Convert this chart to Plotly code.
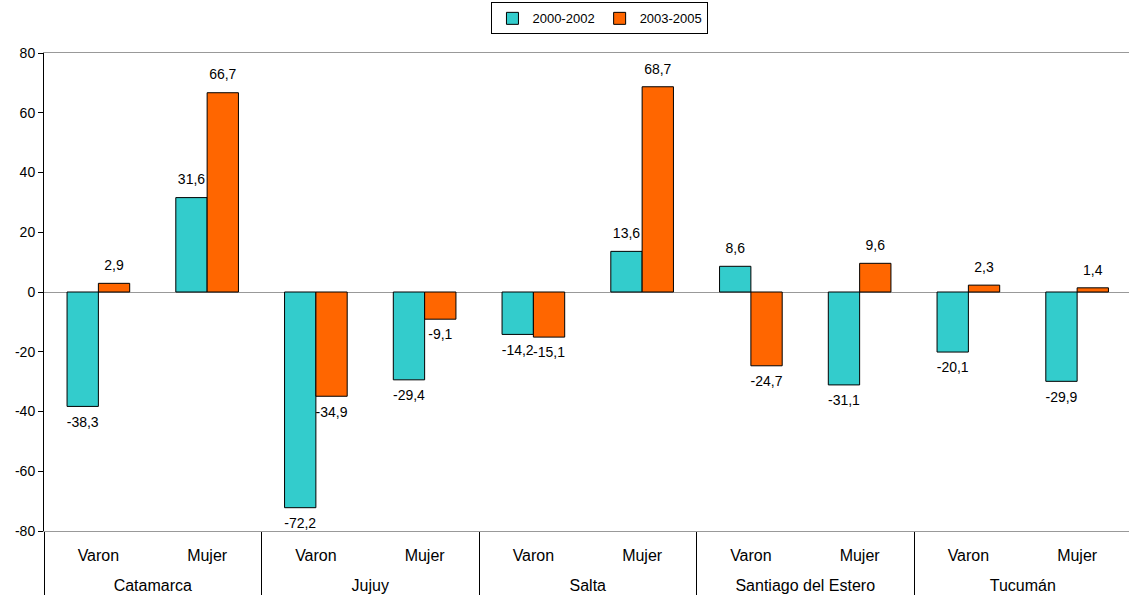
import plotly.graph_objects as go

provincias = ["Catamarca", "Jujuy", "Salta", "Santiago del Estero", "Tucumán"]
sexos = ["Varon", "Mujer"]

# Variación porcentual por provincia y sexo (Varon, Mujer)
serie_2000_2002 = [-38.3, 31.6, -72.2, -29.4, -14.2, 13.6, 8.6, -31.1, -20.1, -29.9]
serie_2003_2005 = [2.9, 66.7, -34.9, -9.1, -15.1, 68.7, -24.7, 9.6, 2.3, 1.4]

y_ticks = [-80, -60, -40, -20, 0, 20, 40, 60, 80]

# Nivel de sexo con una línea vacía debajo para separar los dos niveles del eje
nivel_prov = [p for p in provincias for _ in sexos]
nivel_sexo = [s + "<br> " for _ in provincias for s in sexos]


def etiqueta(v):
    return f"{v:.1f}".replace(".", ",")


series = [
    ("2000-2002", serie_2000_2002, "#33CCCC"),
    ("2003-2005", serie_2003_2005, "#FF6600"),
]

fig = go.Figure()
for nombre, valores, color in series:
    fig.add_trace(go.Bar(
        name=nombre,
        x=[nivel_prov, nivel_sexo],
        y=valores,
        offsetgroup=nombre,
        marker=dict(color=color, line=dict(color="#000000", width=1)),
    ))

# Etiquetas de valor: puntos invisibles agrupados igual que las barras
for nombre, valores, color in series:
    fig.add_trace(go.Scatter(
        x=[nivel_prov, nivel_sexo],
        y=valores,
        offsetgroup=nombre,
        mode="markers+text",
        marker=dict(size=14, opacity=0),
        text=[etiqueta(v) for v in valores],
        textposition=["top center" if v >= 0 else "bottom center" for v in valores],
        textfont=dict(size=14, color="#000000"),
        showlegend=False,
        hoverinfo="skip",
        cliponaxis=False,
    ))

fig.update_layout(
    width=1129,
    height=599,
    margin=dict(l=44, r=0, t=53, b=68),
    paper_bgcolor="white",
    plot_bgcolor="white",
    font=dict(family="Liberation Sans, Arial, sans-serif", size=14, color="#000000"),
    barmode="group",
    bargap=0.424,
    bargroupgap=0,
    scattermode="group",
    scattergap=0.424,
    showlegend=True,
    legend=dict(
        orientation="h",
        x=0.5124, xanchor="center",
        y=0.996, yref="container", yanchor="top",
        bordercolor="#000000", borderwidth=1,
        font=dict(size=13),
        itemwidth=30,
        tracegroupgap=0,
    ),
)

fig.update_xaxes(
    type="multicategory",
    range=[-0.5, 9.477],
    showline=True, linecolor="#999999", linewidth=1, mirror=True,
    showgrid=False,
    ticks="",
    showdividers=True, dividercolor="#000000", dividerwidth=1,
    tickfont=dict(size=16),
    ticklabelstandoff=10,
)

fig.update_yaxes(
    range=[-80, 80],
    tickvals=y_ticks,
    ticktext=[str(v) for v in y_ticks],
    showgrid=False,
    zeroline=True, zerolinecolor="#999999", zerolinewidth=1,
    showline=True, linecolor="#000000", linewidth=1,
    ticks="outside", ticklen=5, tickcolor="#000000",
    tickfont=dict(size=14),
)

fig.write_html("out.html")
